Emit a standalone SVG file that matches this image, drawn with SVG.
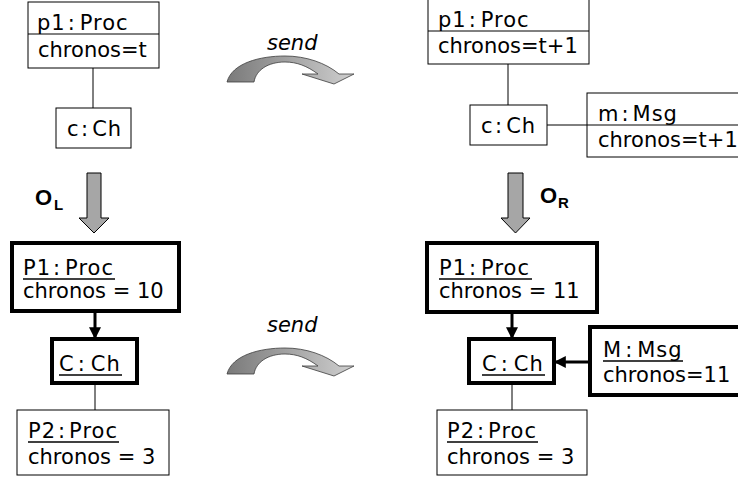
<svg xmlns="http://www.w3.org/2000/svg" width="738" height="477" viewBox="0 0 738 477">
  <defs>
    <style>
      text { font-family: "DejaVu Sans", Verdana, sans-serif; font-size: 21px; fill: #000; }
      .name { letter-spacing: 1px; }
      .ul { stroke: #000; stroke-width: 1.4; }
      .thin { fill: #fff; stroke: #000; stroke-width: 1; }
      .thick { fill: #fff; stroke: #000; stroke-width: 4; }
      .link { fill: none; stroke: #000; stroke-width: 1; }
      .flow { fill: none; stroke: #000; stroke-width: 3; marker-end: url(#head); }
      .block { fill: #a6a6a6; stroke: #000; stroke-width: 1; }
      .curve { fill: url(#sendGrad); stroke: #3c3c3c; stroke-width: 0.8; }
      .lbl { font-style: italic; }
      .op { font-weight: bold; font-size: 22px; font-family: "Liberation Sans", Arial, sans-serif; }
      .sub { font-weight: bold; font-size: 15px; font-family: "Liberation Sans", Arial, sans-serif; }
    </style>
    <linearGradient id="sendGrad" x1="0" y1="0" x2="1" y2="0">
      <stop offset="0" stop-color="#7a7a7a"/>
      <stop offset="1" stop-color="#cfcfcf"/>
    </linearGradient>
    <marker id="head" viewBox="0 0 10 10" refX="9" refY="5" markerWidth="4" markerHeight="4" orient="auto" markerUnits="strokeWidth">
      <path d="M0,0 L10,5 L0,10 Z" fill="#000"/>
    </marker>
    <path id="sendArrow" d="M227,82 C232,63 260,56 285,56 C306,56 326,63 339,74 L354,74 L334,84 L302,74 L318,74 C307,66 297,62 285,62 C268,62 256,70 254,82 Z"/>
  </defs>

  <!-- connectors -->
  <g id="connectors">
    <line class="link" x1="93" y1="68" x2="93" y2="108"/>
    <line class="link" x1="508" y1="64" x2="508" y2="105"/>
    <line class="link" x1="547" y1="125" x2="587" y2="125"/>
    <line class="flow" x1="95" y1="311" x2="95" y2="338"/>
    <line class="link" x1="95" y1="383" x2="95" y2="410"/>
    <line class="flow" x1="512" y1="312" x2="512" y2="338"/>
    <line class="flow" x1="590" y1="362" x2="555" y2="362"/>
    <line class="link" x1="512" y1="383" x2="512" y2="410"/>
  </g>

  <!-- transformation arrows -->
  <g id="send-top">
    <text class="lbl" x="267" y="50">send</text>
    <use href="#sendArrow" class="curve"/>
  </g>
  <g id="send-bottom">
    <text class="lbl" x="267" y="332">send</text>
    <use href="#sendArrow" class="curve" transform="translate(0,292)"/>
  </g>
  <g id="map-left">
    <path class="block" d="M87,173 H101 V218 H109 L94,233 L79,218 H87 Z"/>
    <text class="op" x="35" y="205">O</text>
    <text class="sub" x="54" y="210">L</text>
  </g>
  <g id="map-right">
    <path class="block" d="M508,173 H523 V218 H530 L515.5,233 L501,218 H508 Z"/>
    <text class="op" x="540" y="203">O</text>
    <text class="sub" x="558" y="208">R</text>
  </g>

  <!-- left pattern -->
  <g id="p1-left">
    <rect class="thin" x="28" y="2" width="131" height="66"/>
    <line class="link" x1="28" y1="34" x2="159" y2="34"/>
    <text class="name" x="37" y="30">p1<tspan dx="2">:</tspan><tspan dx="4">Proc</tspan></text>
    <text x="38" y="57">chronos=t</text>
  </g>
  <g id="c-left">
    <rect class="thin" x="56" y="108" width="75" height="40"/>
    <text class="name" x="67" y="136">c<tspan dx="1.5">:</tspan><tspan dx="3">Ch</tspan></text>
  </g>

  <!-- right pattern -->
  <g id="p1-right">
    <rect class="thin" x="428" y="-5" width="161" height="69"/>
    <line class="link" x1="428" y1="31" x2="589" y2="31"/>
    <text class="name" x="438" y="27">p1<tspan dx="2">:</tspan><tspan dx="4">Proc</tspan></text>
    <text x="438" y="53">chronos=t+1</text>
  </g>
  <g id="c-right">
    <rect class="thin" x="470" y="105" width="77" height="40"/>
    <text class="name" x="481" y="133">c<tspan dx="1.5">:</tspan><tspan dx="3">Ch</tspan></text>
  </g>
  <g id="m-right">
    <rect class="thin" x="587" y="93" width="160" height="64"/>
    <line class="link" x1="587" y1="125" x2="747" y2="125"/>
    <text class="name" x="598" y="121">m<tspan dx="2">:</tspan><tspan dx="3">Msg</tspan></text>
    <text x="598" y="147">chronos=t+1</text>
  </g>

  <!-- left graph -->
  <g id="P1-left">
    <rect class="thick" x="12" y="243" width="167" height="68"/>
    <text class="name" x="23" y="275">P1<tspan dx="2">:</tspan><tspan dx="4">Proc</tspan></text>
    <line class="ul" x1="23" y1="279" x2="115" y2="279"/>
    <text x="23" y="298">chronos = 10</text>
  </g>
  <g id="C-left">
    <rect class="thick" x="52" y="339" width="85" height="44"/>
    <text class="name" x="59" y="371">C<tspan dx="3">:</tspan><tspan dx="5">Ch</tspan></text>
    <line class="ul" x1="59" y1="375" x2="122" y2="375"/>
  </g>
  <g id="P2-left">
    <rect class="thin" x="17" y="410" width="152" height="65"/>
    <text class="name" x="28" y="438">P2<tspan dx="2">:</tspan><tspan dx="3">Proc</tspan></text>
    <line class="ul" x1="28" y1="442" x2="119" y2="442"/>
    <text x="28" y="464">chronos = 3</text>
  </g>

  <!-- right graph -->
  <g id="P1-right">
    <rect class="thick" x="427" y="243" width="170" height="69"/>
    <text class="name" x="439" y="275">P1<tspan dx="2">:</tspan><tspan dx="4">Proc</tspan></text>
    <line class="ul" x1="439" y1="279" x2="532" y2="279"/>
    <text x="439" y="298">chronos = 11</text>
  </g>
  <g id="C-right">
    <rect class="thick" x="469" y="339" width="85" height="44"/>
    <text class="name" x="482" y="371">C<tspan dx="3">:</tspan><tspan dx="5">Ch</tspan></text>
    <line class="ul" x1="482" y1="375" x2="545" y2="375"/>
  </g>
  <g id="M-right">
    <rect class="thick" x="590" y="327" width="160" height="68"/>
    <text class="name" x="603" y="357">M<tspan dx="3">:</tspan><tspan dx="4">Msg</tspan></text>
    <line class="ul" x1="603" y1="361" x2="683" y2="361"/>
    <text x="603" y="382">chronos=11</text>
  </g>
  <g id="P2-right">
    <rect class="thin" x="437" y="410" width="150" height="65"/>
    <text class="name" x="447" y="438">P2<tspan dx="2">:</tspan><tspan dx="3">Proc</tspan></text>
    <line class="ul" x1="447" y1="442" x2="538" y2="442"/>
    <text x="447" y="464">chronos = 3</text>
  </g>
</svg>
